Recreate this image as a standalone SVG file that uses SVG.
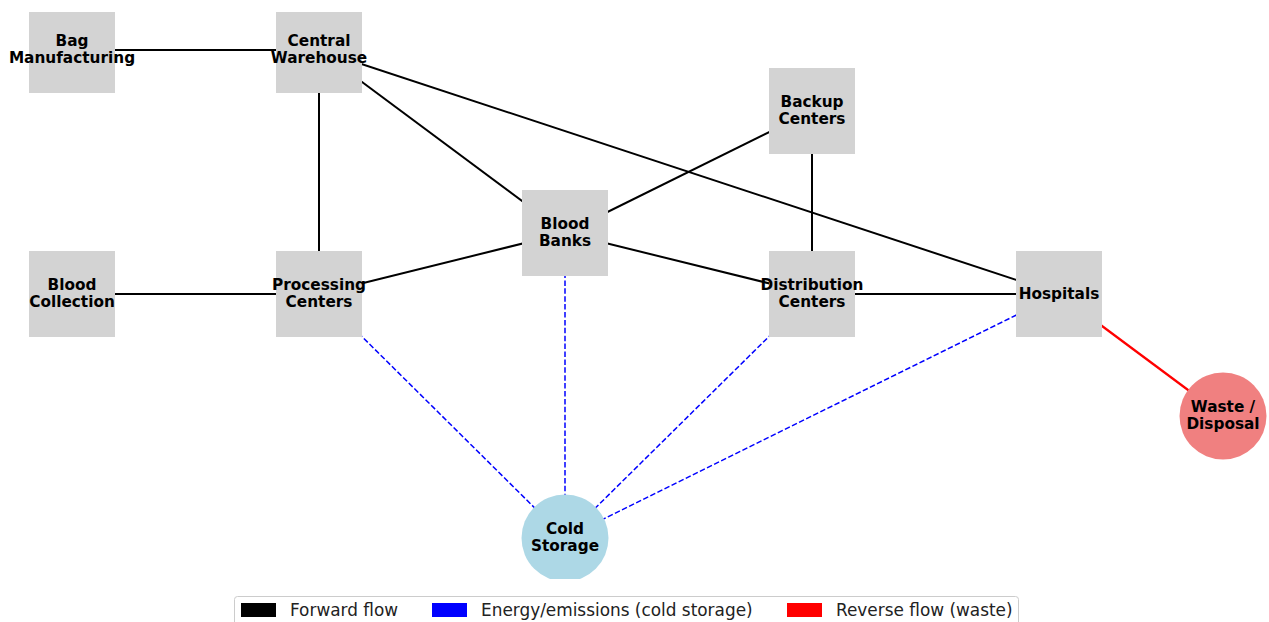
<svg xmlns="http://www.w3.org/2000/svg" width="1269" height="622" viewBox="0 0 1269 622">
<style>
.box{fill:#d3d3d3}
.lbl{font-family:"DejaVu Sans",sans-serif;font-weight:bold;font-size:15.3px;fill:#000;text-anchor:middle}
.fwd{stroke:#000;stroke-width:2;fill:none}
.eng{stroke:#0000ff;stroke-width:1.5;stroke-dasharray:5.5 2.4;fill:none}
.rev{stroke:#ff0000;stroke-width:2.2;fill:none}
.leg{font-family:"DejaVu Sans",sans-serif;font-size:16.9px;fill:#222}
</style>
<defs>
<clipPath id="ax"><rect x="0" y="12" width="1269" height="567"/></clipPath>
</defs>
<rect width="1269" height="622" fill="#fff"/>
<g id="connectors">
<line class="fwd" x1="72" y1="50" x2="319" y2="50"/>
<line class="fwd" x1="319" y1="50" x2="319" y2="294"/>
<line class="fwd" x1="319" y1="50" x2="565" y2="233"/>
<line class="fwd" x1="319" y1="50" x2="1059" y2="294"/>
<line class="fwd" x1="72" y1="294" x2="319" y2="294"/>
<line class="fwd" x1="319" y1="294" x2="565" y2="233"/>
<line class="fwd" x1="565" y1="233" x2="812" y2="111"/>
<line class="fwd" x1="565" y1="233" x2="812" y2="294"/>
<line class="fwd" x1="812" y1="111" x2="812" y2="294"/>
<line class="fwd" x1="812" y1="294" x2="1059" y2="294"/>
<line class="rev" x1="1059" y1="294" x2="1223" y2="416"/>
<line class="eng" x1="319" y1="294" x2="565" y2="538"/>
<line class="eng" x1="565" y1="233" x2="565" y2="538"/>
<line class="eng" x1="812" y1="294" x2="565" y2="538"/>
<line class="eng" x1="1059" y1="294" x2="565" y2="538"/>
</g>
<g clip-path="url(#ax)">
<g id="bag-manufacturing"><rect class="box" x="29" y="7" width="86" height="86"/><text class="lbl" x="72" y="46">Bag</text><text class="lbl" x="72" y="63">Manufacturing</text></g>
<g id="central-warehouse"><rect class="box" x="276" y="7" width="86" height="86"/><text class="lbl" x="319" y="46">Central</text><text class="lbl" x="319" y="63">Warehouse</text></g>
<g id="backup-centers"><rect class="box" x="769" y="68" width="86" height="86"/><text class="lbl" x="812" y="107">Backup</text><text class="lbl" x="812" y="124">Centers</text></g>
<g id="blood-banks"><rect class="box" x="522" y="190" width="86" height="86"/><text class="lbl" x="565" y="229">Blood</text><text class="lbl" x="565" y="246">Banks</text></g>
<g id="blood-collection"><rect class="box" x="29" y="251" width="86" height="86"/><text class="lbl" x="72" y="290">Blood</text><text class="lbl" x="72" y="307">Collection</text></g>
<g id="processing-centers"><rect class="box" x="276" y="251" width="86" height="86"/><text class="lbl" x="319" y="290">Processing</text><text class="lbl" x="319" y="307">Centers</text></g>
<g id="distribution-centers"><rect class="box" x="769" y="251" width="86" height="86"/><text class="lbl" x="812" y="290">Distribution</text><text class="lbl" x="812" y="307">Centers</text></g>
<g id="hospitals"><rect class="box" x="1016" y="251" width="86" height="86"/><text class="lbl" x="1059" y="299">Hospitals</text></g>
<g id="waste-disposal"><circle cx="1223" cy="416" r="43.5" fill="#f08080"/><text class="lbl" x="1223" y="412">Waste /</text><text class="lbl" x="1223" y="429">Disposal</text></g>
<g id="cold-storage"><circle cx="565" cy="538" r="43.5" fill="#add8e6"/><text class="lbl" x="565" y="534">Cold</text><text class="lbl" x="565" y="551">Storage</text></g>
</g>
<g id="legend">
<rect x="234.5" y="596.5" width="784" height="40" rx="3" fill="#fff" fill-opacity="0.8" stroke="#cccccc"/>
<rect x="241" y="603" width="35" height="14" fill="#000"/>
<text class="leg" x="290" y="616">Forward flow</text>
<rect x="432" y="603" width="35" height="14" fill="#0000ff"/>
<text class="leg" x="481" y="616">Energy/emissions (cold storage)</text>
<rect x="787" y="603" width="35" height="14" fill="#ff0000"/>
<text class="leg" x="836" y="616">Reverse flow (waste)</text>
</g>
</svg>
